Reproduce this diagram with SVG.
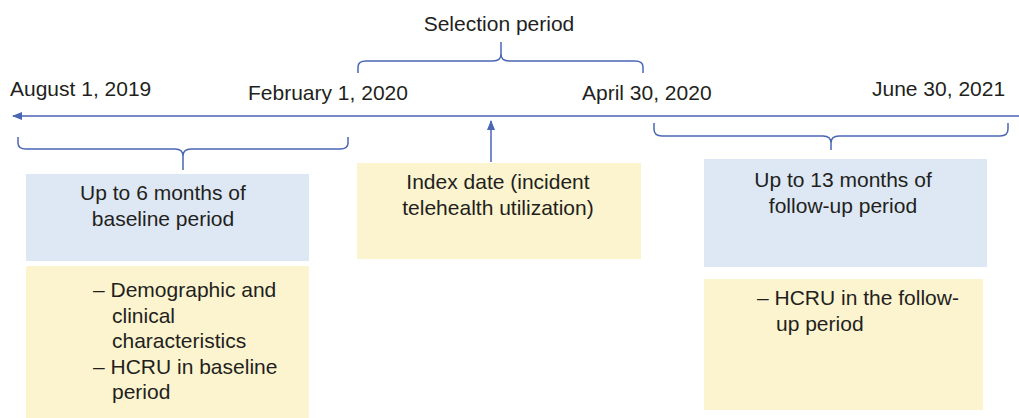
<svg xmlns="http://www.w3.org/2000/svg" width="1019" height="418" viewBox="0 0 1019 418">
<defs>
<marker id="ah" markerWidth="10" markerHeight="8" refX="9" refY="4" orient="auto" markerUnits="userSpaceOnUse">
<path d="M0,0 L10,4 L0,8 Z" fill="#4a66b5"/>
</marker>
<style>
text{font-family:"Liberation Sans",Arial,Helvetica,sans-serif;font-size:21px;fill:#231f20}
.c{text-anchor:middle}
.ln{fill:none;stroke:#4a66b5;stroke-width:1.5}
.blue{fill:#dde8f4}
.yel{fill:#fbf4cf}
</style>
</defs>
<rect width="1019" height="418" fill="#ffffff"/>
<g id="connectors">
<line class="ln" x1="1019" y1="116" x2="13" y2="116" marker-end="url(#ah)"/>
<line class="ln" x1="491" y1="162" x2="491" y2="121" marker-end="url(#ah)"/>
<path class="ln" d="M18,137 L18,143 Q18,149 26,149 L175,149 Q183,149 183,156 Q183,149 191,149 L340,149 Q348,149 348,143 L348,137 M183,156 L183,170"/>
<path class="ln" d="M358,73 L358,67 Q358,61 366,61 L493,61 Q501,61 501,54 Q501,61 509,61 L635,61 Q643,61 643,67 L643,73 M501,54 L501,42"/>
<path class="ln" d="M654,123 L654,129 Q654,136 662,136 L823,136 Q831,136 831,143 Q831,136 839,136 L1000,136 Q1008,136 1008,129 L1008,123 M831,143 L831,150"/>
</g>
<g id="labels">
<text class="c" x="499" y="31">Selection period</text>
<text x="10" y="96">August 1, 2019</text>
<text x="248" y="100">February 1, 2020</text>
<text x="582" y="100">April 30, 2020</text>
<text x="872" y="96">June 30, 2021</text>
</g>
<g id="baseline">
<rect class="blue" x="26" y="174" width="283" height="87"/>
<text class="c" x="163" y="200">Up to 6 months of</text>
<text class="c" x="163" y="226">baseline period</text>
</g>
<g id="baseline-details">
<rect class="yel" x="26" y="266" width="283" height="152"/>
<text x="93" y="297">– Demographic and</text>
<text x="112" y="323">clinical</text>
<text x="112" y="348">characteristics</text>
<text x="93" y="374">– HCRU in baseline</text>
<text x="112" y="399">period</text>
</g>
<g id="index">
<rect class="yel" x="357" y="163" width="284" height="96"/>
<text class="c" x="498" y="189">Index date (incident</text>
<text class="c" x="498" y="215">telehealth utilization)</text>
</g>
<g id="followup">
<rect class="blue" x="704" y="159" width="283" height="108"/>
<text class="c" x="843" y="187">Up to 13 months of</text>
<text class="c" x="843" y="213">follow-up period</text>
</g>
<g id="followup-details">
<rect class="yel" x="704" y="279" width="279" height="131"/>
<text x="757" y="305">– HCRU in the follow-</text>
<text x="776" y="331">up period</text>
</g>
</svg>
